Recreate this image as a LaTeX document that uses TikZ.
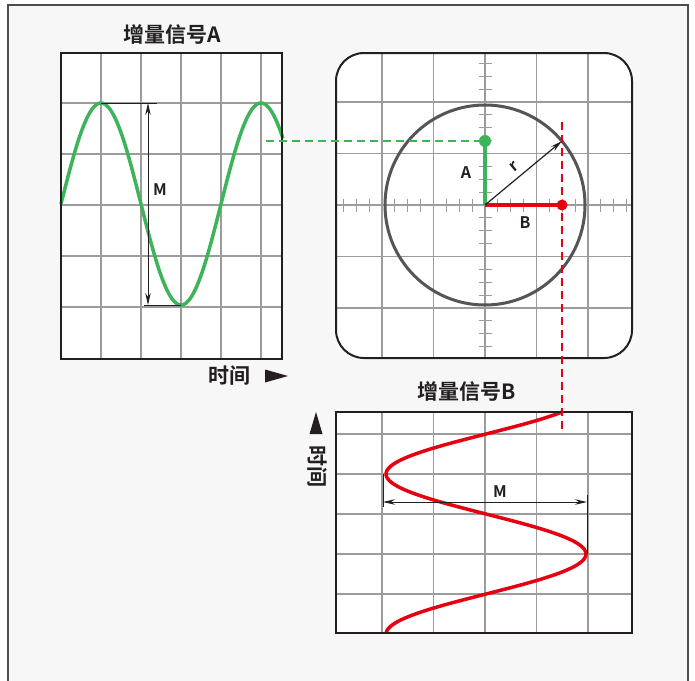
\documentclass[tikz,border=0pt]{standalone}
\usepackage{fontspec}
\setmainfont{Noto Sans CJK SC}[BoldFont=* Bold]
\usepackage{tikz}
\usetikzlibrary{arrows.meta}
\definecolor{sigA}{HTML}{3DB35A}
\definecolor{sigB}{HTML}{E60012}
\definecolor{gridgray}{HTML}{9C9C9C}
\definecolor{ringgray}{HTML}{555555}
\definecolor{panelbg}{HTML}{F7F7F7}
\definecolor{ink}{HTML}{231F20}

\begin{document}
\begin{tikzpicture}[x=1pt,y=-1pt,>={Stealth[length=12pt,width=5.5pt]},
  grid/.style={gridgray,line width=1.2pt},
  frame/.style={draw=ink,line width=1.6pt},
  title/.style={font=\fontsize{21}{24}\selectfont\bfseries,text=ink},
  timelbl/.style={font=\fontsize{21}{24}\selectfont\bfseries,text=ink},
  lbl/.style={font=\fontsize{16}{18}\selectfont\bfseries,text=ink},
  dimline/.style={ink,line width=1pt}]
\useasboundingbox(0,0)rectangle(695,680);
\fill[white](0,0)rectangle(695,680);
\draw[fill=panelbg,draw=black!70,line width=1.5pt](8,5)rectangle(688,700);
% signal A
\fill[white](61,53)rectangle(282,359);
\foreach \x in {101,141,...,261}\draw[grid](\x,53)--(\x,359);
\foreach \y in {103,154,...,307}\draw[grid](61,\y)--(282,\y);
\draw[sigA,line width=3.5pt]plot[domain=61:283,samples=120](\x,{204-101*cos(2.25*(\x-101))});
\draw[frame](61,53)rectangle(282,359);
\draw[dimline](101,103)--(157,103)(144,305)--(181,305);
\draw[dimline,<->](148,103)--(148,305);
\node[lbl](mA)at(160,190){M};
\node[title](titleA)at(172,35){增量信号A};
\node[timelbl](timeA)at(229,376){时间};
\fill[ink](265,369.5)--(288,376)--(265,382.5)--cycle;
% phasor screen
\coordinate(O)at(485,205);
\coordinate(A)at(485,141);
\coordinate(B)at(562,205);
\coordinate(R)at(562,141);
\fill[white,rounded corners=28pt](336,53)rectangle(632,358);
\begin{scope}
\clip[rounded corners=28pt](336,53)rectangle(632,358);
\foreach \k in {-2,...,2}{
  \draw[grid]({485+51.5*\k},53)--({485+51.5*\k},358);
  \draw[grid](336,{205+51.5*\k})--(632,{205+51.5*\k});}
\foreach \k in {1,...,11}{
  \draw[grid]({485+12.875*\k},198.5)--({485+12.875*\k},211.5);
  \draw[grid]({485-12.875*\k},198.5)--({485-12.875*\k},211.5);
  \draw[grid](478.5,{205+12.875*\k})--(491.5,{205+12.875*\k});
  \draw[grid](478.5,{205-12.875*\k})--(491.5,{205-12.875*\k});}
\end{scope}
\draw[frame,line width=2pt,rounded corners=28pt](336,53)rectangle(632,358);
\draw[ringgray,line width=3pt](O)circle[radius=100];
\draw[sigA,line width=3.5pt](O)--(A);
\draw[sigB,line width=3.5pt](O)--(B);
\fill[sigA](A)circle[radius=6];
\fill[sigB](B)circle[radius=5.5];
\draw[ink,line width=1.2pt,->](O)--(R);
\node[lbl](lA)at(466,173){A};
\node[lbl](lB)at(525,223){B};
\node[lbl,rotate=40](lr)at(514,167){r};
% signal B
\fill[white](336,412)rectangle(632,633);
\foreach \k in {-2,...,2}\draw[grid]({485+51.5*\k},412)--({485+51.5*\k},633);
\foreach \y in {434,474,...,594}\draw[grid](336,\y)--(632,\y);
\draw[sigB,line width=3.5pt]plot[domain=412:633,samples=120]({486-100*cos(2.25*(\x-474))},\x);
\draw[frame](336,412)rectangle(632,633);
\draw[dimline](383,474)--(383,507)(587,495)--(587,554);
\draw[dimline,<->](383,502)--(587,502);
\node[lbl](mB)at(500,492){M};
\node[title](titleB)at(467,392){增量信号B};
\node[timelbl,rotate=-90](timeB)at(317,466){时间};
\fill[ink](316,412)--(322.5,434)--(309.5,434)--cycle;
% projections
\draw[sigA,line width=1.2pt,dash pattern=on 8pt off 5pt](266,141)--(A);
\draw[sigB,line width=1.2pt,dash pattern=on 8pt off 5pt](562,122)--(562,434);
\end{tikzpicture}
\end{document}
